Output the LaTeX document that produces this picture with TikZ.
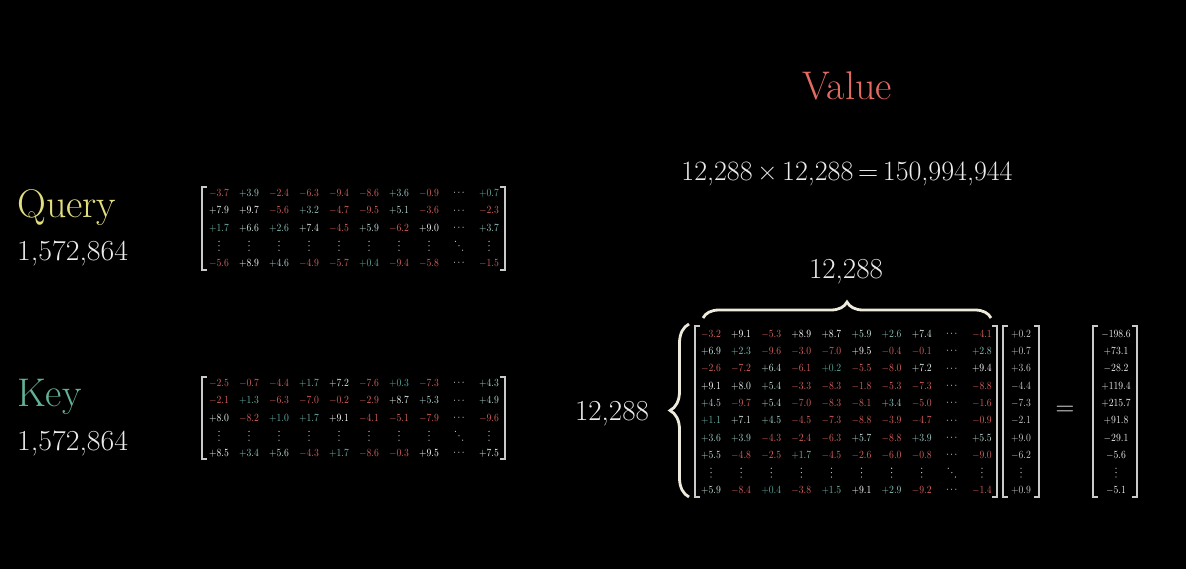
\documentclass[tikz,border=0pt]{standalone}
\usetikzlibrary{decorations.pathreplacing}
\definecolor{fg}{RGB}{236,236,236}
\definecolor{qyellow}{RGB}{226,222,128}
\definecolor{kteal}{RGB}{98,178,152}
\definecolor{vred}{RGB}{226,108,98}
\definecolor{negred}{RGB}{214,96,92}
\definecolor{posteal}{RGB}{84,168,156}
\definecolor{cream}{RGB}{238,234,220}
% 縦点: x, y
\newcommand{\vdts}[2]{%
  \fill[dotc] (#1,{#2-4.4}) circle (0.65) (#1,#2) circle (0.65) (#1,{#2+4.4}) circle (0.65);
}
% 行列の成分: #1 名前, #2 x0, #3 y0, #4 dx, #5 dy, #6 最後の行番号, #7 行
\newcommand{\drawmat}[7]{%
  \foreach \r [count=\i] in {#7} {
    \foreach \v [count=\j] in \r {
      \pgfmathsetmacro\cx{#2+(\j-1+(\j>8))*#4}
      \pgfmathsetmacro\cy{#3+(\i-1+(\i==#6))*#5}
      \pgfmathsetmacro\val{0\v}
      \pgfmathtruncatemacro\pct{min(100,max(0,\val*11))}
      \ifdim\val pt<0pt \def\cc{negred}\else\edef\cc{white!\pct!posteal}\fi
      \node[cell,text=\cc] (#1-\i-\j) at (\cx,\cy) {$\v$};
    }
    \pgfmathsetmacro\cy{#3+(\i-1+(\i==#6))*#5}
    \node[cell] (#1-\i-dots) at ({#2+8*#4},\cy) {$\cdots$};
  }
  \pgfmathsetmacro\cy{#3+(#6-1)*#5}
  \foreach \j in {1,...,8,10} {
    \pgfmathsetmacro\cx{#2+(\j-1)*#4}
    \vdts{\cx}{\cy}
  }
  \pgfmathsetmacro\cx{#2+8*#4}
  \fill[dotc] ({\cx-3.6},{\cy-4.4}) circle (0.65) (\cx,\cy) circle (0.65) ({\cx+3.6},{\cy+4.4}) circle (0.65);
}
% 角かっこ: x1, x2, y1, y2
\newcommand{\mbrack}[4]{%
  \draw[brk] ({#1+5},#3) -- (#1,#3) -- (#1,#4) -- ({#1+5},#4);
  \draw[brk] ({#2-5},#3) -- (#2,#3) -- (#2,#4) -- ({#2-5},#4);
}
\begin{document}
\begin{tikzpicture}[x=1pt,y=-1pt,
  cell/.style={font=\fontsize{10.5}{11}\selectfont,text=fg,inner sep=0pt,xscale=0.88},
  dotc/.style={fill=fg!90!black},
  lbl/.style={font=\fontsize{40}{44}\selectfont,inner sep=0pt},
  num/.style={font=\fontsize{29}{32}\selectfont,text=fg,inner sep=0pt,xscale=1.03},
  dim/.style={font=\fontsize{29}{32}\selectfont,text=fg,inner sep=0pt,anchor=base},
  brk/.style={draw=fg!85!black,line width=1.1pt},
  brc/.style={draw=cream,line width=2.8pt,decorate,decoration={brace,amplitude=#1}}]
  % 背景
  \fill[black] (0,0) rectangle (1186,569);
  % 見出し
  \node[lbl,text=qyellow,anchor=base west] (query) at (17,218) {Query};
  \node[num,anchor=base west] (qsize) at (17,261) {1,572,864};
  \node[lbl,text=kteal,anchor=base west] (key) at (17,406) {Key};
  \node[num,anchor=base west] (ksize) at (17,450) {1,572,864};
  \node[lbl,text=vred,anchor=base] (value) at (847,100) {Value};
  \node[dim,font=\fontsize{28}{30}\selectfont] (vcount) at (847,181) {12,288\,\texttimes\,12,288\,=\,150,994,944};
  % Query 行列
  \drawmat{q}{219}{193}{30}{17.6}{4}{{-3.7,+3.9,-2.4,-6.3,-9.4,-8.6,+3.6,-0.9,+0.7},
    {+7.9,+9.7,-5.6,+3.2,-4.7,-9.5,+5.1,-3.6,-2.3},
    {+1.7,+6.6,+2.6,+7.4,-4.5,+5.9,-6.2,+9.0,+3.7},
    {-5.6,+8.9,+4.6,-4.9,-5.7,+0.4,-9.4,-5.8,-1.5}}
  \mbrack{202}{505}{187}{270}
  % Key 行列
  \drawmat{k}{219}{383}{30}{17.6}{4}{{-2.5,-0.7,-4.4,+1.7,+7.2,-7.6,+0.3,-7.3,+4.3},
    {-2.1,+1.3,-6.3,-7.0,-0.2,-2.9,+8.7,+5.3,+4.9},
    {+8.0,-8.2,+1.0,+1.7,+9.1,-4.1,-5.1,-7.9,-9.6},
    {+8.5,+3.4,+5.6,-4.3,+1.7,-8.6,-0.3,+9.5,+7.5}}
  \mbrack{202}{505}{377}{459}
  % Value 行列
  \drawmat{v}{711}{334}{30.1}{17.33}{9}{{-3.2,+9.1,-5.3,+8.9,+8.7,+5.9,+2.6,+7.4,-4.1},
    {+6.9,+2.3,-9.6,-3.0,-7.0,+9.5,-0.4,-0.1,+2.8},
    {-2.6,-7.2,+6.4,-6.1,+0.2,-5.5,-8.0,+7.2,+9.4},
    {+9.1,+8.0,+5.4,-3.3,-8.3,-1.8,-5.3,-7.3,-8.8},
    {+4.5,-9.7,+5.4,-7.0,-8.3,-8.1,+3.4,-5.0,-1.6},
    {+1.1,+7.1,+4.5,-4.5,-7.3,-8.8,-3.9,-4.7,-0.9},
    {+3.6,+3.9,-4.3,-2.4,-6.3,+5.7,-8.8,+3.9,+5.5},
    {+5.5,-4.8,-2.5,+1.7,-4.5,-2.6,-6.0,-0.8,-9.0},
    {+5.9,-8.4,+0.4,-3.8,+1.5,+9.1,+2.9,-9.2,-1.4}}
  \mbrack{695}{997}{326}{497}
  % ベクトルと結果
  \foreach \v [count=\i] in {+0.2,+0.7,+3.6,-4.4,-7.3,-2.1,+9.0,-6.2,+0.9} {
    \pgfmathsetmacro\cy{334+(\i-1+(\i==9))*17.33}
    \node[cell,text=fg!85!black] (x-\i) at (1021,\cy) {$\v$};
  }
  \vdts{1021}{472.6}
  \mbrack{1003}{1039}{326}{497}
  \node[font=\fontsize{26}{28}\selectfont,text=fg,inner sep=0pt] (eq) at (1065,411) {=};
  \foreach \v [count=\i] in {-198.6,+73.1,-28.2,+119.4,+215.7,+91.8,-29.1,-5.6,-5.1} {
    \pgfmathsetmacro\cy{334+(\i-1+(\i==9))*17.33}
    \node[cell] (y-\i) at (1116,\cy) {$\v$};
  }
  \vdts{1116}{472.6}
  \mbrack{1093}{1137}{326}{497}
  % 次元の波かっこ
  \coordinate (tl) at (703,318);
  \coordinate (tr) at (991,318);
  \draw[brc=16] (tl) -- (tr);
  \node[dim] (colsize) at (846,279) {12,288};
  \coordinate (lb) at (689,497);
  \coordinate (lt) at (689,324);
  \draw[brc=19] (lb) -- (lt);
  \node[dim] (rowsize) at (612,420) {12,288};
\end{tikzpicture}
\end{document}
